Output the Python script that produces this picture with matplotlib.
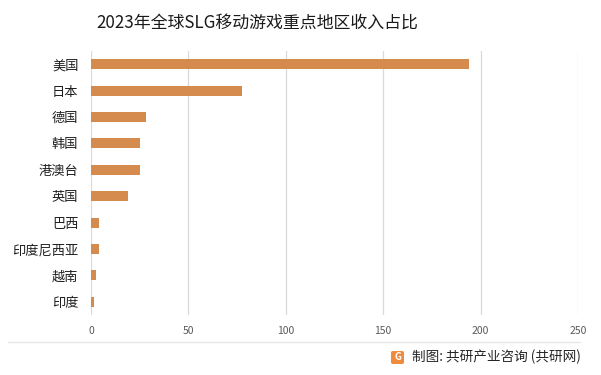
import numpy as np
import matplotlib
matplotlib.use("Agg")
import matplotlib.pyplot as plt
from matplotlib.lines import Line2D
from matplotlib.patches import FancyBboxPatch

plt.rcParams['font.family'] = ['Noto Sans CJK SC', 'DejaVu Sans']

# data
regions = ["美国", "日本", "德国", "韩国", "港澳台", "英国", "巴西", "印度尼西亚", "越南", "印度"]
revenue = [194.2, 77.7, 28.4, 25.3, 25.3, 19.1, 4.3, 4.3, 2.7, 1.7]
xticks = [0, 50, 100, 150, 200, 250]

W, H = 601, 375
fig = plt.figure(figsize=(W / 100, H / 100), dpi=100)
ax = fig.add_axes([91 / W, 1 - 315 / H, (578 - 91) / W, (315 - 51) / H])

y = np.arange(len(regions))
ax.barh(y, revenue, height=0.38, color="#D58B4E")
ax.set_ylim(len(regions) - 0.5, -0.5)
ax.set_xlim(0, 250)
ax.set_yticks(y)
ax.set_yticklabels(regions, fontsize=9.5, color="#1f1f1f")
ax.set_xticks(xticks)
ax.set_xticklabels([str(t) for t in xticks], fontsize=7.5, color="#595959")
ax.tick_params(axis="both", length=0)
ax.tick_params(axis="x", pad=8)
ax.tick_params(axis="y", pad=9)
ax.grid(axis="x", color="#D9D9D9", linewidth=0.9)
ax.set_axisbelow(True)
for s in ax.spines.values():
    s.set_visible(False)

fig.text(257 / W, 1 - 23 / H, "2023年全球SLG移动游戏重点地区收入占比",
         ha="center", va="center", fontsize=12.2, color="#1a1a1a")

# separator line and source footer
fig.add_artist(Line2D([8 / W, 580 / W], [1 - 342 / H, 1 - 342 / H],
                      color="#E6E6E6", linewidth=0.9))
logo = FancyBboxPatch((391 / W, 1 - 364 / H), 13 / W, 13 / H,
                      boxstyle="round,pad=0,rounding_size=0.004",
                      transform=fig.transFigure, facecolor="#F08A3C",
                      edgecolor="none")
fig.add_artist(logo)
fig.text(397.5 / W, 1 - 357.5 / H, "G", ha="center", va="center",
         fontsize=7, color="white", fontweight="bold")
fig.text(412 / W, 1 - 357 / H, "制图: 共研产业咨询 (共研网)",
         ha="left", va="center", fontsize=9.8, color="#262626", fontweight="medium")

fig.savefig("out.png", dpi=100)
